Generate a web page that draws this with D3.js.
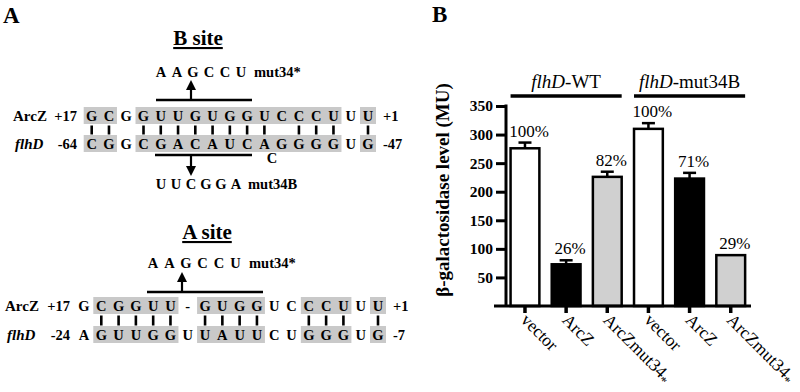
<!DOCTYPE html>
<html>
<head>
<meta charset="utf-8">
<title>ArcZ / flhD pairing and beta-galactosidase</title>
<style>
body { margin: 0; background: #fff; }
svg { display: block; font-family: "Liberation Serif", "Times New Roman", serif; }
</style>
</head>
<body>
<svg width="800" height="392"></svg>
<script src="https://d3js.org/d3.v7.min.js"></script>
<script>

// ---- panel A data ----
var bTop    = "GCGGUUGUGGUCCCUUU".split(""),
    bBottom = "CGGCGACAUCAGGGGUG".split(""),
    bPaired = [1,1,0,1,1,1,1,1,1,1,1,0,1,1,1,0,1],
    bShaded = [1,1,0,1,1,1,1,1,1,1,1,1,1,1,1,0,1];

var aTop    = "GCGGUU-GUGGUCCCUUU".split(""),
    aBottom = "AGUUGGUUAUUCUGGGUG".split(""),
    aPaired = [0,1,1,1,1,1,0,1,1,1,1,0,0,1,1,1,0,1],
    aShaded = [0,1,1,1,1,1,0,1,1,1,1,0,0,1,1,1,0,1];

var mutStar = "AAGCCU".split(""),
    mutB    = "UUCGGA".split("");

// ---- panel B data ----
var strains  = ["vector", "ArcZ", "ArcZmut34*", "vector", "ArcZ", "ArcZmut34*"],
    values   = [276, 73, 226, 310, 223, 89],
    errors   = [10, 7, 9, 10, 10, 0],
    percents = ["100%", "26%", "82%", "100%", "71%", "29%"],
    groups   = ["WT", "mut34B"],
    yTicks   = [50, 100, 150, 200, 250, 300, 350];

var fills = ["#fff", "#000", "#d0d0d0", "#fff", "#000", "#d0d0d0"];

var svg = d3.select("svg");
svg.append("rect").attr("width", 800).attr("height", 392).attr("fill", "#fff");

// panel letters
svg.append("text").attr("x", 3).attr("y", 23).attr("font-size", 23)
    .attr("font-weight", "bold").text("A");
svg.append("text").attr("x", 432).attr("y", 22).attr("font-size", 23)
    .attr("font-weight", "bold").text("B");

// draws one duplex (site) block
function drawSite(o) {
  var g = svg.append("g");
  var x = d3.scaleLinear().domain([0, o.top.length - 1]).range(o.xr);

  g.append("text").attr("x", o.cx).attr("y", o.titleY)
      .attr("text-anchor", "middle").attr("font-size", 21)
      .attr("font-weight", "bold").attr("text-decoration", "underline")
      .text(o.title);

  // shaded runs
  [o.yTop, o.yBot].forEach(function(yy) {
    var runs = [], s = null;
    o.shaded.forEach(function(v, i) {
      if (v && s === null) s = i;
      if ((!v || i === o.shaded.length - 1) && s !== null) {
        runs.push([s, v ? i : i - 1]); s = null;
      }
    });
    g.selectAll(null).data(runs).enter().append("rect")
        .attr("x", function(d) { return x(d[0]) - 8; })
        .attr("width", function(d) { return x(d[1]) - x(d[0]) + 16; })
        .attr("y", yy - 9).attr("height", 17)
        .attr("fill", "#c9c9c9");
  });

  // pairing lines
  g.selectAll(null).data(o.paired.map(function(d, i) { return d ? i : -1; })
      .filter(function(i) { return i >= 0; }))
    .enter().append("line")
      .attr("x1", function(i) { return x(i); }).attr("x2", function(i) { return x(i); })
      .attr("y1", o.yTop + 9.5).attr("y2", o.yBot - 9.5)
      .attr("stroke", "#000").attr("stroke-width", 2.6);

  // sequences
  [[o.top, o.yTop], [o.bottom, o.yBot]].forEach(function(r) {
    g.selectAll(null).data(r[0]).enter().append("text")
        .attr("x", function(d, i) { return x(i); })
        .attr("y", r[1] + 5)
        .attr("text-anchor", "middle").attr("font-size", 14.5)
        .attr("font-weight", "bold")
        .text(function(d) { return d; });
  });

  // row labels
  g.append("text").attr("x", o.nameX).attr("y", o.yTop + 5).attr("font-size", 15)
      .attr("font-weight", "bold").text("ArcZ");
  g.append("text").attr("x", o.nameX + 2).attr("y", o.yBot + 5).attr("font-size", 15)
      .attr("font-weight", "bold").attr("font-style", "italic").text("flhD");
  g.append("text").attr("x", o.numX).attr("y", o.yTop + 5).attr("font-size", 14.5)
      .attr("font-weight", "bold").attr("text-anchor", "end").text("+17");
  g.append("text").attr("x", o.numX).attr("y", o.yBot + 5).attr("font-size", 14.5)
      .attr("font-weight", "bold").attr("text-anchor", "end").text(o.leftNum);
  g.append("text").attr("x", o.rightX).attr("y", o.yTop + 5).attr("font-size", 14.5)
      .attr("font-weight", "bold").text("+1");
  g.append("text").attr("x", o.rightX).attr("y", o.yBot + 5).attr("font-size", 14.5)
      .attr("font-weight", "bold").text(o.rightNum);

  // mutation marks
  o.muts.forEach(function(m) {
    var dir = m.up ? -1 : 1;
    g.append("line").attr("x1", m.x0).attr("x2", m.x1)
        .attr("y1", m.barY).attr("y2", m.barY)
        .attr("stroke", "#000").attr("stroke-width", 2.6);
    g.append("line").attr("x1", m.ax).attr("x2", m.ax)
        .attr("y1", m.barY).attr("y2", m.tipY - dir * 6)
        .attr("stroke", "#000").attr("stroke-width", 2.2);
    g.append("path")
        .attr("d", d3.line()([[m.ax, m.tipY], [m.ax - 5, m.tipY - dir * 10],
                              [m.ax + 5, m.tipY - dir * 10]]) + "Z")
        .attr("fill", "#000");
    g.selectAll(null).data(m.letters).enter().append("text")
        .attr("x", function(d, i) { return m.lx + i * m.step; })
        .attr("y", m.ly + 5).attr("text-anchor", "middle")
        .attr("font-size", 14.5).attr("font-weight", "bold")
        .text(function(d) { return d; });
    g.append("text").attr("x", m.lx + m.letters.length * m.step - 3)
        .attr("y", m.ly + 5).attr("font-size", 14.5).attr("font-weight", "bold")
        .text(m.name);
  });
}

drawSite({
  title: "B site", cx: 198, titleY: 45,
  top: bTop, bottom: bBottom, paired: bPaired, shaded: bShaded,
  xr: [91.7, 368], yTop: 116, yBot: 144,
  nameX: 13, numX: 77, leftNum: "-64", rightX: 383, rightNum: "-47",
  muts: [
    { up: true, x0: 156, x1: 252, barY: 100, ax: 191, tipY: 80,
      letters: mutStar, lx: 161, ly: 72, step: 16, name: "mut34*" },
    { up: false, x0: 155, x1: 252, barY: 155, ax: 191, tipY: 176,
      letters: mutB, lx: 161, ly: 184, step: 15, name: "mut34B" }
  ]
});

// bulged C on the flhD strand
svg.append("text").attr("x", 272).attr("y", 163).attr("text-anchor", "middle")
    .attr("font-size", 14.5).attr("font-weight", "bold").text("C");

drawSite({
  title: "A site", cx: 207, titleY: 239,
  top: aTop, bottom: aBottom, paired: aPaired, shaded: aShaded,
  xr: [84, 378], yTop: 306, yBot: 335,
  nameX: 5, numX: 70, leftNum: "-24", rightX: 393, rightNum: "-7",
  muts: [
    { up: true, x0: 147, x1: 263, barY: 292, ax: 182, tipY: 272,
      letters: mutStar, lx: 153, ly: 263, step: 16.5, name: "mut34*" }
  ]
});

// ---- panel B: bar chart ----
var x = d3.scaleBand().domain(d3.range(strains.length))
    .range([504.4, 751.3]).paddingInner(0.3).paddingOuter(0.15);
var y = d3.scaleLinear().domain([0, 350]).range([306, 106]);

var chart = svg.append("g");

chart.selectAll(".bar").data(values).enter().append("rect")
    .attr("x", function(d, i) { return x(i); })
    .attr("width", x.bandwidth())
    .attr("y", function(d) { return y(d); })
    .attr("height", function(d) { return y(0) - y(d); })
    .attr("fill", function(d, i) { return fills[i]; })
    .attr("stroke", "#000").attr("stroke-width", 2.5);

// error bars
values.forEach(function(v, i) {
  if (!errors[i]) return;
  var cx = x(i) + x.bandwidth() / 2;
  chart.append("line").attr("x1", cx).attr("x2", cx)
      .attr("y1", y(v)).attr("y2", y(v + errors[i]))
      .attr("stroke", "#000").attr("stroke-width", 2.5);
  chart.append("line").attr("x1", cx - 6.5).attr("x2", cx + 6.5)
      .attr("y1", y(v + errors[i])).attr("y2", y(v + errors[i]))
      .attr("stroke", "#000").attr("stroke-width", 2.5);
});

// percentages
chart.selectAll(".pct").data(percents).enter().append("text")
    .attr("x", function(d, i) { return x(i) + x.bandwidth() / 2 + 4; })
    .attr("y", function(d, i) { return y(values[i] + errors[i]) - 6; })
    .attr("text-anchor", "middle").attr("font-size", 17)
    .text(function(d) { return d; });

// y axis
var yAxis = chart.append("g").attr("transform", "translate(506,0)")
    .call(d3.axisLeft(y).tickValues(yTicks).tickSize(10).tickSizeOuter(0).tickPadding(3));
yAxis.attr("font-family", null).attr("font-size", null);
yAxis.select(".domain").remove();
yAxis.selectAll(".tick line").attr("stroke-width", 3);
yAxis.selectAll(".tick text").attr("font-size", 15.5)
    .attr("font-weight", "bold").attr("fill", "#000");
chart.append("line").attr("x1", 506).attr("x2", 506).attr("y1", 104.5).attr("y2", 307)
    .attr("stroke", "#000").attr("stroke-width", 3);

chart.append("text")
    .attr("transform", "translate(449,190) rotate(-90)")
    .attr("text-anchor", "middle").attr("font-size", 19).attr("font-weight", "bold")
    .text("\u03b2-galactosidase level (MU)");

// x axis
var xAxis = chart.append("g").attr("transform", "translate(0,306)")
    .call(d3.axisBottom(x).tickSize(7).tickSizeOuter(0).tickFormat(""));
xAxis.attr("font-family", null).attr("font-size", null).attr("text-anchor", null);
xAxis.select(".domain").remove();
xAxis.selectAll(".tick line").attr("stroke-width", 3.5);
xAxis.selectAll(".tick text").remove();
chart.append("line").attr("x1", 494).attr("x2", 751).attr("y1", 306).attr("y2", 306)
    .attr("stroke", "#000").attr("stroke-width", 3);

xAxis.selectAll(".tick").each(function(i) {
  var s = strains[i], star = s.slice(-1) === "*";
  var t = d3.select(this).append("text")
      .attr("transform", "translate(-5,15) rotate(45)")
      .attr("text-anchor", "start")
      .attr("font-size", 17.5).attr("fill", "#000");
  t.append("tspan").text(star ? s.slice(0, -1) : s);
  if (star) t.append("tspan").attr("font-size", 13).attr("dy", 4).text("*");
});

// group headers
groups.forEach(function(gname, k) {
  var x0 = x(k * 3), x1 = x(k * 3 + 2) + x.bandwidth();
  chart.append("line").attr("x1", x0).attr("x2", x1).attr("y1", 96).attr("y2", 96)
      .attr("stroke", "#000").attr("stroke-width", 3.5);
  var t = chart.append("text").attr("x", (x0 + x1) / 2).attr("y", 88)
      .attr("text-anchor", "middle").attr("font-size", 19);
  t.append("tspan").attr("font-style", "italic").text("flhD");
  t.append("tspan").text("-" + gname);
});

</script>
</body>
</html>
